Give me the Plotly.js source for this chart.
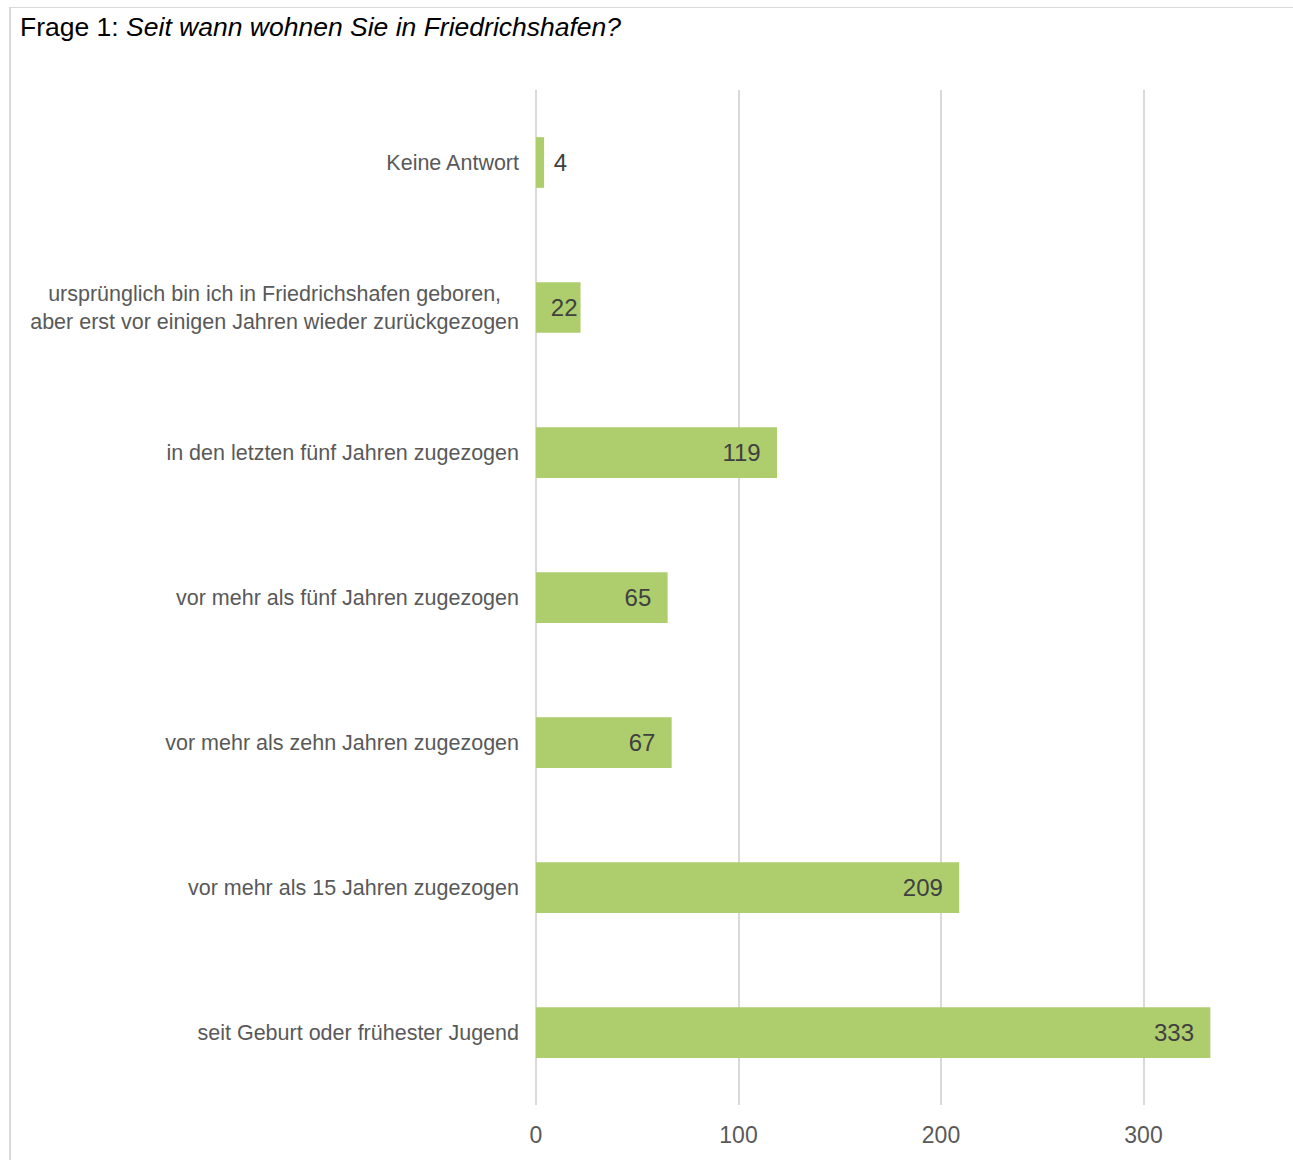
<!DOCTYPE html>
<html>
<head>
<meta charset="utf-8">
<script src="https://cdn.plot.ly/plotly-3.0.1.min.js"></script>
<style>
  html, body { margin: 0; padding: 0; background: #ffffff; }
  #frame { position: absolute; left: 9px; top: 7px; width: 1284px; height: 1153px;
           border-top: 1px solid #d9d9d9; border-left: 2px solid #d9d9d9; box-sizing: border-box; }
  #chart { position: absolute; left: 0; top: 0; width: 1293px; height: 1160px; }
</style>
</head>
<body>
<div id="frame"></div>
<div id="chart"></div>
<script>
const categories = [
  "Keine Antwort",
  "ursprünglich bin ich in Friedrichshafen geboren,\u00a0\u00a0\u00a0<br>aber erst vor einigen Jahren wieder zurückgezogen",
  "in den letzten fünf Jahren zugezogen",
  "vor mehr als fünf Jahren zugezogen",
  "vor mehr als zehn Jahren zugezogen",
  "vor mehr als 15 Jahren zugezogen",
  "seit Geburt oder frühester Jugend"
];
const values = [4, 22, 119, 65, 67, 209, 333];
const labelPositions = ["outside", "inside", "inside", "inside", "inside", "inside", "inside"];
const tickValues = [0, 100, 200, 300];

const NB = "\u00a0";
const templates = labelPositions.map((p, i) => {
  if (p === "outside") return NB + "%{x}";
  if (values[i] < 30) return "%{x}";
  return "%{x}" + NB + NB;
});

const trace = {
  type: "bar",
  orientation: "h",
  x: values,
  y: categories,
  texttemplate: templates,
  textposition: labelPositions,
  insidetextanchor: "end",
  constraintext: "none",
  textangle: 0,
  cliponaxis: false,
  textfont: { family: "Liberation Sans, Arial, sans-serif", size: 24, color: "#404040" },
  marker: { color: "#aece6e" },
  hoverinfo: "x+y"
};

const layout = {
  width: 1293,
  height: 1160,
  margin: { l: 536, r: 28, t: 90, b: 55 },
  paper_bgcolor: "rgba(0,0,0,0)",
  plot_bgcolor: "rgba(0,0,0,0)",
  showlegend: false,
  bargap: 0.65,
  font: { family: "Liberation Sans, Arial, sans-serif", color: "#595959" },
  title: {
    text: "Frage 1: <i>Seit wann wohnen Sie in Friedrichshafen?</i>",
    font: { family: "Liberation Sans, Arial, sans-serif", size: 26.5, color: "#000000" },
    x: 0.0155, xref: "container", xanchor: "left",
    y: 0.977, yref: "container", yanchor: "middle"
  },
  xaxis: {
    range: [0, 360],
    tickvals: tickValues,
    ticktext: tickValues.map(String),
    showgrid: true,
    gridcolor: "#d9d9d9",
    gridwidth: 2,
    zeroline: true,
    zerolinecolor: "#d9d9d9",
    zerolinewidth: 2,
    showline: false,
    ticks: "",
    ticklabelstandoff: 14,
    tickfont: { size: 23, color: "#595959" },
    fixedrange: true
  },
  yaxis: {
    type: "category",
    autorange: "reversed",
    showgrid: false,
    zeroline: false,
    showline: false,
    ticks: "",
    ticklabelstandoff: 16,
    tickfont: { size: 21.5, color: "#595959" },
    fixedrange: true
  }
};

Plotly.newPlot("chart", [trace], layout, { displayModeBar: false, staticPlot: true });
</script>
</body>
</html>
